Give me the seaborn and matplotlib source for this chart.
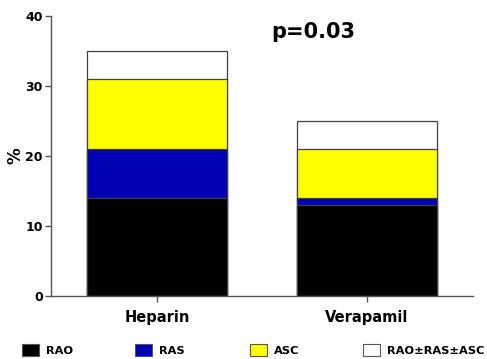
import numpy as np
import pandas as pd
import matplotlib
matplotlib.use("Agg")
import matplotlib.pyplot as plt
import seaborn as sns
from matplotlib.patches import Patch

groups = ["Heparin", "Verapamil"]
components = ["RAO", "RAS", "ASC", "RAO±RAS±ASC"]
rao = [14, 13]
ras = [7, 1]
asc = [10, 7]
combined = [4, 4]
colors = ["#000000", "#0000b4", "#ffff00", "#ffffff"]
yticks = [0, 10, 20, 30, 40]
p_text = "p=0.03"

sns.set_theme(style="white")
plt.rcParams["font.family"] = ["DejaVu Sans"]
plt.rcParams["font.weight"] = "bold"
plt.rcParams["text.color"] = "black"
plt.rcParams["xtick.color"] = "black"
plt.rcParams["ytick.color"] = "black"
plt.rcParams["axes.labelcolor"] = "black"

layers = np.array([rao, ras, asc, combined], dtype=float)
cumulative = np.cumsum(layers, axis=0)

fig = plt.figure(figsize=(4.87, 3.59), dpi=100)
ax = fig.add_axes([51 / 487, 1 - 296 / 359, (473 - 51) / 487, (296 - 16) / 359])

# stacked bars: draw cumulative totals from the top segment down
for i in range(len(components) - 1, -1, -1):
    df = pd.DataFrame({"group": groups, "value": cumulative[i]})
    sns.barplot(data=df, x="group", y="value", color=colors[i], saturation=1,
                width=0.67, edgecolor="#404040", linewidth=0.9, ax=ax)

ax.set_xlim(-0.505, 1.505)
ax.set_ylim(0, 40)
ax.set_yticks(yticks)
ax.set_xlabel("")
ax.set_ylabel("%", fontsize=12, fontweight="bold")
ax.yaxis.set_label_coords(-27 / 422, 0.5)
ax.tick_params(axis="both", which="both", direction="out", length=4, width=1,
               bottom=True, left=True)
ax.tick_params(axis="both", which="both", color="#555555")
ax.tick_params(axis="y", labelsize=9, pad=2)
ax.tick_params(axis="x", labelsize=10.5, pad=6)
for lab in ax.get_xticklabels() + ax.get_yticklabels():
    lab.set_fontweight("bold")
for side in ["top", "right"]:
    ax.spines[side].set_visible(False)
for side in ["left", "bottom"]:
    ax.spines[side].set_color("#555555")
    ax.spines[side].set_linewidth(1)

fig.text(313 / 487, 1 - 32 / 359, p_text, fontsize=15, fontweight="bold",
         ha="center", va="center")

# legend entries laid out along the bottom edge
legend_x = [22, 135, 250, 363]
for name, c, x in zip(components, colors, legend_x):
    h = Patch(facecolor=c, edgecolor="#555555", linewidth=0.8)
    fig.legend([h], [name], loc="center left",
               bbox_to_anchor=(x / 487, 1 - 350 / 359), frameon=False,
               borderpad=0, borderaxespad=0, handlelength=1.5,
               handleheight=1.15, handletextpad=0.6,
               prop={"weight": "bold", "size": 8.2})

fig.savefig("out.png", dpi=100)
